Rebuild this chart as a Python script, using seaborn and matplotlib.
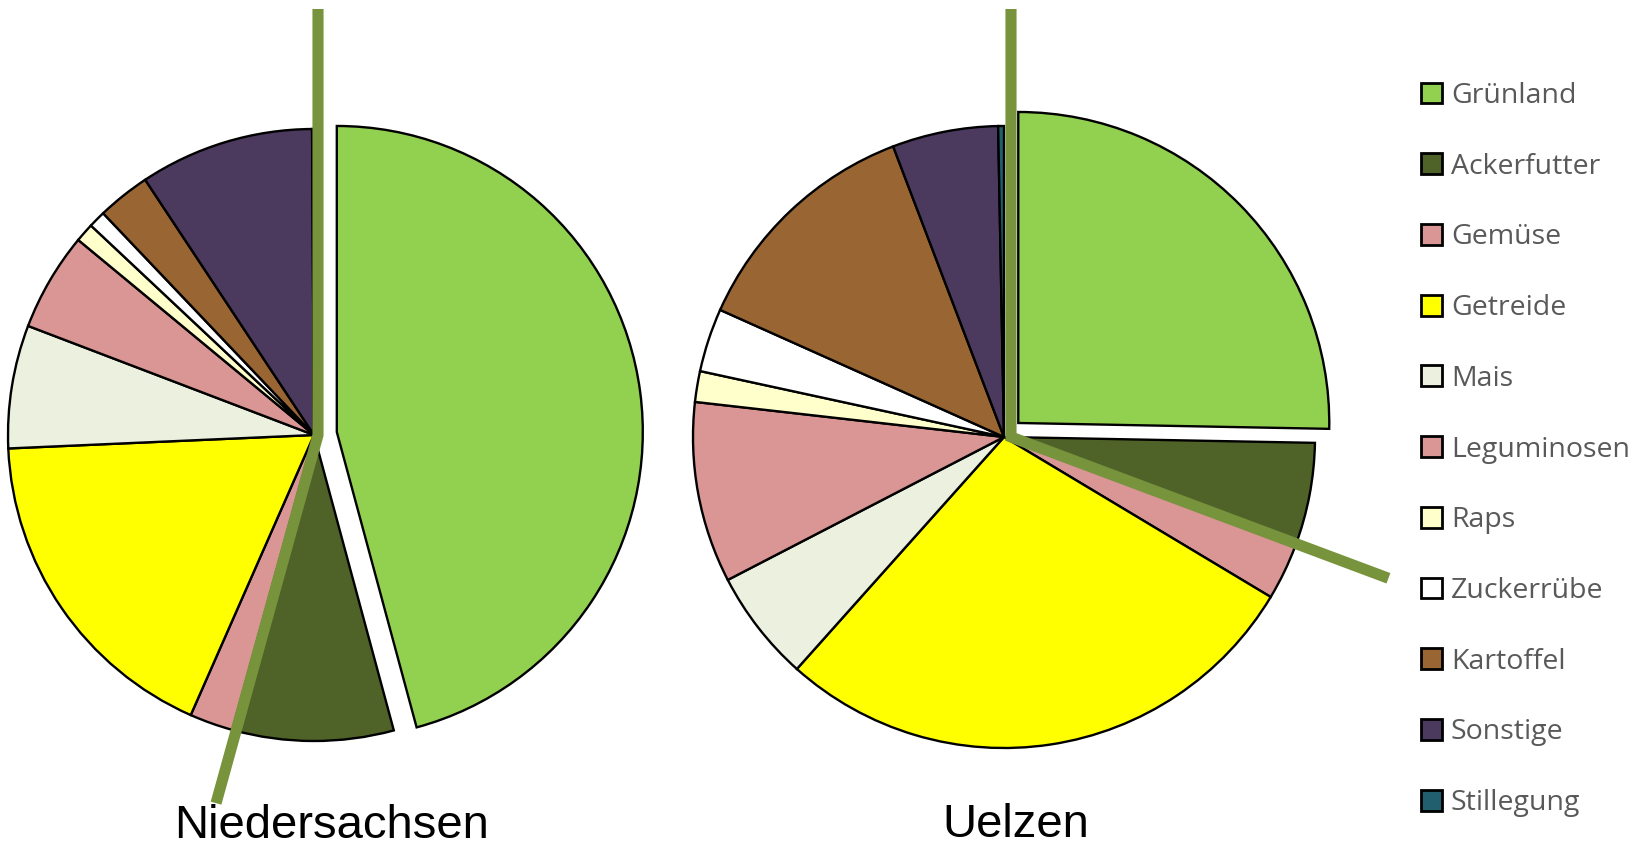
import numpy as np
import matplotlib
matplotlib.use("Agg")
import matplotlib.pyplot as plt
from matplotlib.patches import Patch
import seaborn as sns

# ---------------- data ----------------
categories = ["Grünland", "Ackerfutter", "Gemüse", "Getreide", "Mais", "Leguminosen",
              "Raps", "Zuckerrübe", "Kartoffel", "Sonstige", "Stillegung"]
niedersachsen = [45.8, 8.5, 2.3, 17.7, 6.5, 5.2, 1.0, 0.9, 2.8, 9.2, 0.1]
uelzen = [25.3, 5.4, 2.9, 28.0, 5.8, 9.4, 1.6, 3.3, 12.5, 5.5, 0.3]
colors = ["#92D050", "#4F6228", "#D99694", "#FFFF00", "#EBF1DE", "#D99694",
          "#FFFFCC", "#FFFFFF", "#996633", "#4B3A5E", "#215F6E"]
titles = ["Niedersachsen", "Uelzen"]

# ---------------- style ----------------
sns.set_theme(style="white")
plt.rcParams["font.family"] = ["Open Sans", "DejaVu Sans"]

W, H = 1650, 848
fig = plt.figure(figsize=(W / 100, H / 100), dpi=100)
ax = fig.add_axes([0, 0, 1, 1])
ax.set_xlim(0, W)
ax.set_ylim(0, H)
ax.set_aspect("equal")
ax.axis("off")

# layout (pixel units)
pies = [
    dict(values=niedersachsen, center=(314, H - 435), radius=306, explode=23,
         line_dx=4, diag_len=382, title_xy=(332, H - 838), title_va="baseline"),
    dict(values=uelzen, center=(1004, H - 437), radius=311, explode=20,
         line_dx=7, diag_len=403, title_xy=(1016, 1), title_va="bottom"),
]
line_top = H - 9
line_color = "#77933C"

for p, title in zip(pies, titles):
    vals = p["values"]
    expl = [p["explode"]] + [0] * (len(vals) - 1)
    ax.pie(vals, colors=colors, explode=expl, startangle=90, counterclock=False,
           center=p["center"], radius=p["radius"], normalize=True,
           wedgeprops=dict(edgecolor="black", linewidth=1.7), frame=True)
    # forage share marker: Grünland + Ackerfutter
    share = (vals[0] + vals[1]) / sum(vals)
    ang = 2 * np.pi * share  # clockwise from top
    cx, cy = p["center"]
    lx = cx + p["line_dx"]
    xs = [lx, lx, lx + p["diag_len"] * np.sin(ang)]
    ys = [line_top, cy, cy + p["diag_len"] * np.cos(ang)]
    ax.plot(xs, ys, color=line_color, lw=8, solid_joinstyle="miter",
            solid_capstyle="butt", zorder=5)
    ax.text(p["title_xy"][0], p["title_xy"][1], title, ha="center", va=p["title_va"],
            fontsize=34, family=["Liberation Sans", "DejaVu Sans"], color="black")

ax.set_xlim(0, W)
ax.set_ylim(0, H)
ax.axis("off")

handles = [Patch(facecolor=c, edgecolor="black", linewidth=2.0) for c in colors]
leg = ax.legend(handles, categories, loc="upper left",
                bbox_to_anchor=(1421 / W, 1 - 82 / H), bbox_transform=fig.transFigure,
                frameon=False, fontsize=20.5, borderpad=0, borderaxespad=0,
                handlelength=0.75, handleheight=0.75, handletextpad=0.3,
                labelspacing=1.5)
for t in leg.get_texts():
    t.set_color("#595959")

fig.savefig("out.png", dpi=100)
